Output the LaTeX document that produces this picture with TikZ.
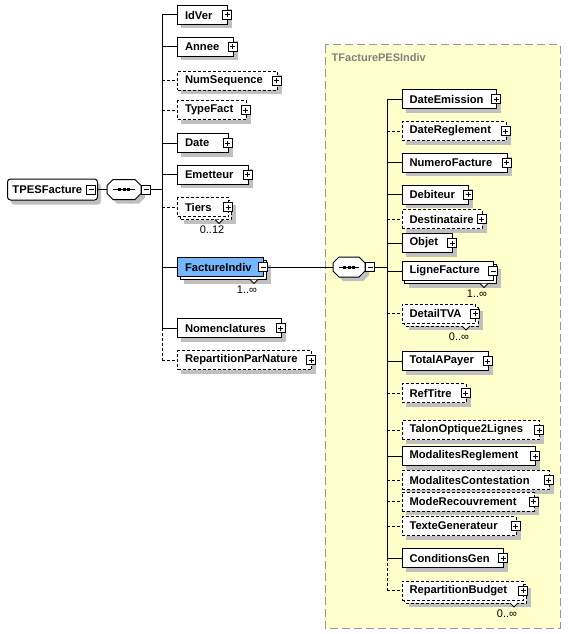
\documentclass[tikz,border=0pt]{standalone}
\usepackage{fontspec}
\setmainfont{Liberation Sans}
\usetikzlibrary{calc}

\definecolor{shadowc}{RGB}{192,192,192}
\definecolor{panelfill}{RGB}{255,255,204}
\definecolor{panelline}{RGB}{150,150,150}
\definecolor{panellabel}{RGB}{128,128,128}
\definecolor{selblue}{RGB}{118,182,255}

\tikzset{
  conn/.style={line width=1pt},
  opt/.style={dash pattern=on 3pt off 2pt},
  elembox/.style={draw, fill=white, line width=1pt, anchor=west,
    minimum height=19pt, inner xsep=7.5pt, inner ysep=0pt, align=left,
    font=\fontsize{11.2}{13}\selectfont\bfseries},
  pbox/.style={draw, fill=white, line width=1pt, minimum size=9pt, inner sep=0pt,
    path picture={
      \draw[line width=1pt] ([xshift=2pt]path picture bounding box.west) -- ([xshift=-2pt]path picture bounding box.east);
      \draw[line width=1pt] ([yshift=-2pt]path picture bounding box.north) -- ([yshift=2pt]path picture bounding box.south);}},
  mbox/.style={draw, fill=white, line width=1pt, minimum size=9pt, inner sep=0pt,
    path picture={
      \draw[line width=1pt] ([xshift=2pt]path picture bounding box.west) -- ([xshift=-2pt]path picture bounding box.east);}},
  mult/.style={font=\fontsize{11}{13}\selectfont, inner sep=0pt},
}

% single element: name, left, right, centre y, text, border style, expand sign
\newcommand\elem[7]{%
  \fill[shadowc] (#2+4,#4-5.5) rectangle (#3+5,#4+13.5);
  \pgfmathsetmacro\elw{#3-#2-15}%
  \node[elembox,#6,text width=\elw pt] (#1) at (#2,#4) {#5};
  \node[#7] (#1-s) at (#3,#4) {};
}

% repeated element: name, left, right, centre y, text, border style, sign, occurrence, front fill
\newcommand\melem[9]{%
  \fill[shadowc] (#2+7,#4-2.5) rectangle (#3+8,#4+16.5);
  \draw[line width=1pt, fill=white, #6] (#2+3,#4-6.5) rectangle (#3+3,#4+12.5);
  \draw[line width=1pt, fill=white] (#3-13,#4+12.5) -- (#3-9,#4+16.5) -- (#3-5,#4+12.5);
  \pgfmathsetmacro\elw{#3-#2-15}%
  \node[elembox,#6,fill=#9,text width=\elw pt] (#1) at (#2,#4) {#5};
  \node[#7] (#1-s) at (#3,#4) {};
  \node[mult] (#1-occ) at (#3-16,#4+23) {#8};
}

% sequence compositor: name, left, right, centre y
\newcommand\seqbox[4]{%
  \fill[shadowc] (#2+10,#4-6) -- (#3-2,#4-6) -- (#3+4,#4) -- (#3+4,#4+8) -- (#3-2,#4+14)
     -- (#2+10,#4+14) -- (#2+4,#4+8) -- (#2+4,#4) -- cycle;
  \draw[line width=1pt, fill=white] (#2+6,#4-10) -- (#3-6,#4-10) -- (#3,#4-4) -- (#3,#4+4)
     -- (#3-6,#4+10) -- (#2+6,#4+10) -- (#2,#4+4) -- (#2,#4-4) -- cycle;
  \draw[line width=1pt] (#2+6,#4) -- (#3-6,#4);
  \fill ({(#2+#3)/2-6.2},#4-1.5) rectangle ++(3,3);
  \fill ({(#2+#3)/2-1.5},#4-1.5) rectangle ++(3,3);
  \fill ({(#2+#3)/2+3.2},#4-1.5) rectangle ++(3,3);
  \coordinate (#1-w) at (#2,#4);
  \node[mbox] (#1-s) at (#3+5,#4) {};
}

\begin{document}
\begin{tikzpicture}[x=1pt,y=-1pt]
\useasboundingbox (0,0) rectangle (569,634);

% complex type panel
\draw[panelline, fill=panelfill, line width=1pt, dash pattern=on 8pt off 4pt] (325,45) rectangle (560,628);
\node[anchor=west, inner sep=0pt, text=panellabel, font=\fontsize{11}{13}\selectfont\bfseries] (ctype) at (331.5,57.5) {TFacturePESIndiv};

% root element
\fill[shadowc, rounded corners=3pt] (11,183.5) rectangle (101,204.5);
\node[draw, fill=white, line width=1pt, rounded corners=3pt, anchor=west, minimum height=21pt,
  inner xsep=5pt, inner ysep=0pt, text width=80pt, align=left,
  font=\fontsize{11.2}{13}\selectfont\bfseries] (root) at (7,189.5) {TPESFacture};
\node[mbox] (root-s) at (91,189.5) {};

% first sequence
\seqbox{seqA}{107}{141}{189.5}
\coordinate (busA) at (162,189.5);

% children of TPESFacture
\elem{idver}{177}{227}{15}{IdVer}{}{pbox}
\elem{annee}{177}{232.5}{47}{Annee}{}{pbox}
\elem{numseq}{177}{276.5}{80.5}{NumSequence}{opt}{pbox}
\elem{typefact}{177}{245.5}{110}{TypeFact}{opt}{pbox}
\elem{date}{177}{227.5}{143}{Date}{}{pbox}
\elem{emetteur}{177}{247.5}{174.5}{Emetteur}{}{pbox}
\melem{tiers}{177}{228}{207}{Tiers}{opt}{pbox}{0..12}{white}
\melem{factind}{177}{263}{267}{FactureIndiv}{}{mbox}{1..∞}{selblue}
\elem{nomen}{177}{280.5}{328}{Nomenclatures}{}{pbox}
\elem{repnat}{177}{311}{360}{RepartitionParNature}{opt}{pbox}

% second sequence
\seqbox{seqB}{333}{365}{267}
\coordinate (busB) at (387,267);

% children of TFacturePESIndiv
\elem{dateem}{401.5}{496}{99}{DateEmission}{}{pbox}
\elem{datereg}{401.5}{505.5}{131}{DateReglement}{opt}{pbox}
\elem{numfac}{401.5}{506.5}{162.5}{NumeroFacture}{}{pbox}
\elem{debit}{401.5}{468}{194.5}{Debiteur}{}{pbox}
\elem{dest}{401.5}{481.5}{219}{Destinataire}{opt}{pbox}
\elem{objet}{401.5}{452}{243}{Objet}{}{pbox}
\melem{ligne}{401.5}{493}{271}{LigneFacture}{}{mbox}{1..∞}{white}
\melem{dtva}{401.5}{475}{313.5}{DetailTVA}{opt}{pbox}{0..∞}{white}
\elem{total}{401.5}{487.5}{361}{TotalAPayer}{}{pbox}
\elem{reftitre}{401.5}{465.5}{393}{RefTitre}{opt}{pbox}
\elem{talon}{401.5}{539}{430}{TalonOptique2Lignes}{opt}{pbox}
\elem{modreg}{401.5}{535}{456}{ModalitesReglement}{}{pbox}
\elem{modcont}{401.5}{548.5}{480}{ModalitesContestation}{opt}{pbox}
\elem{moderec}{401.5}{533.5}{501.5}{ModeRecouvrement}{opt}{pbox}
\elem{texte}{401.5}{515.5}{526}{TexteGenerateur}{opt}{pbox}
\elem{condgen}{401.5}{503}{558}{ConditionsGen}{}{pbox}
\melem{repbud}{401.5}{523}{590.5}{RepartitionBudget}{opt}{pbox}{0..∞}{white}

% connectors
\draw[conn] (root.east) -- (seqA-w);
\draw[conn] (seqA-s.east) -- (busA);
\foreach \nm in {idver,annee,numseq,typefact,date,emetteur,tiers,factind,nomen,repnat}
  \coordinate (bus-\nm) at (\nm.west -| busA);
\foreach \nm in {idver,annee,date,emetteur,factind,nomen}
  \draw[conn] (bus-\nm) -- (\nm.west);
\foreach \nm in {numseq,typefact,tiers,repnat}
  \draw[conn,opt] (bus-\nm) -- (\nm.west);
\draw[conn] (bus-idver) -- (bus-nomen);
\draw[conn,opt] (bus-nomen) -- (bus-repnat);

\draw[conn] (factind-s.east) -- (seqB-w);
\draw[conn] (seqB-s.east) -- (busB);
\foreach \nm in {dateem,datereg,numfac,debit,dest,objet,ligne,dtva,total,reftitre,talon,modreg,modcont,moderec,texte,condgen,repbud}
  \coordinate (bus-\nm) at (\nm.west -| busB);
\foreach \nm in {dateem,numfac,debit,objet,ligne,total,modreg,condgen}
  \draw[conn] (bus-\nm) -- (\nm.west);
\foreach \nm in {datereg,dest,dtva,reftitre,talon,modcont,moderec,texte,repbud}
  \draw[conn,opt] (bus-\nm) -- (\nm.west);
\draw[conn] (bus-dateem) -- (bus-condgen);
\draw[conn,opt] (bus-condgen) -- (bus-repbud);
\end{tikzpicture}
\end{document}
